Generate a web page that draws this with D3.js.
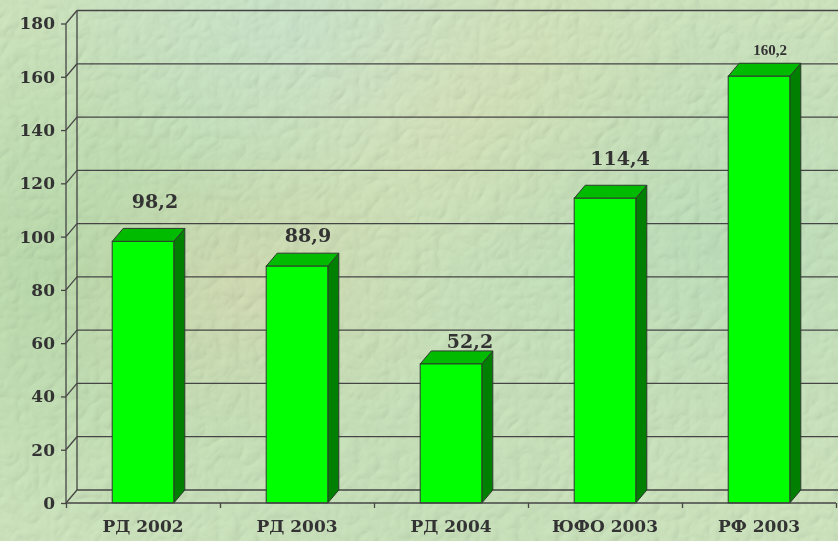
<!DOCTYPE html>
<html>
<head>
<meta charset="utf-8">
<script src="https://cdn.jsdelivr.net/npm/d3@7"></script>
<style>
  html, body { margin: 0; padding: 0; overflow: hidden; }
  svg { display: block; }
</style>
</head>
<body>
<script>
// данные
const categories = ['РД 2002', 'РД 2003', 'РД 2004', 'ЮФО 2003', 'РФ 2003']
const values = [98.2, 88.9, 52.2, 114.4, 160.2]
const valueLabels = ['98,2', '88,9', '52,2', '114,4', '160,2']
const yTicks = [0, 20, 40, 60, 80, 100, 120, 140, 160, 180]

const W = 838, H = 541
const depthX = 11, depthY = -13   // смещение задней стенки
const textColor = '#333333'
const lineColor = '#454545'

// сдвиги подписей значений (dx от центра столбца, dy от верхней грани)
const labelShift = [[12, -33], [11, -24], [19, -16], [15, -33], [11, -21]]

const svg = d3.select('body')
  .append('svg')
  .attr('width', W)
  .attr('height', H)

const defs = svg.append('defs')

// фон: пятна цвета
const blobs = [
  {cx: 0.1, cy: 0.5, r: 0.45, c: '#a9d39c'},
  {cx: 0.55, cy: 0.2, r: 0.3, c: '#e0e2b4'},
  {cx: 0.3, cy: 0.55, r: 0.25, c: '#e2dab4'},
  {cx: 0.85, cy: 0.45, r: 0.4, c: '#b3dcb8'},
  {cx: 0.5, cy: 0.85, r: 0.4, c: '#c4e0b8'},
  {cx: 0.35, cy: 0.05, r: 0.3, c: '#c8e6d6'}
]
blobs.forEach((b, i) => {
  const g = defs.append('radialGradient').attr('id', 'blob' + i)
  g.append('stop').attr('offset', '0%').attr('stop-color', b.c).attr('stop-opacity', 0.55)
  g.append('stop').attr('offset', '100%').attr('stop-color', b.c).attr('stop-opacity', 0)
})

const tex = defs.append('filter').attr('id', 'tex')
  .attr('x', 0).attr('y', 0).attr('width', '100%').attr('height', '100%')
tex.append('feTurbulence')
  .attr('type', 'turbulence')
  .attr('baseFrequency', 0.05)
  .attr('numOctaves', 2)
  .attr('seed', 3)
  .attr('result', 'n')
tex.append('feDiffuseLighting')
  .attr('in', 'n')
  .attr('surfaceScale', 2)
  .attr('lighting-color', '#ffffff')
  .append('feDistantLight')
  .attr('azimuth', 225)
  .attr('elevation', 55)

svg.append('rect')
  .attr('width', W).attr('height', H)
  .attr('fill', '#cfe6c0')

svg.selectAll('ellipse.blob')
  .data(blobs)
  .enter()
  .append('ellipse')
  .attr('class', 'blob')
  .attr('cx', d => d.cx * W)
  .attr('cy', d => d.cy * H)
  .attr('rx', d => d.r * W)
  .attr('ry', d => d.r * H * 1.1)
  .attr('fill', (d, i) => `url(#blob${i})`)

svg.append('rect')
  .attr('width', W).attr('height', H)
  .attr('filter', 'url(#tex)')
  .style('mix-blend-mode', 'multiply')
  .attr('opacity', 0.3)

// шкалы
const x0 = 66, x1 = 836
const xScale = d3.scaleBand()
  .domain(categories)
  .range([x0, x1])
  .paddingInner(0.6)
  .paddingOuter(0.3)

const yScale = d3.scaleLinear()
  .domain([0, 180])
  .range([503, 23.5])

const g = svg.append('g')

// задняя стенка: линии сетки
g.selectAll('line.grid')
  .data(yTicks)
  .enter()
  .append('line')
  .attr('class', 'grid')
  .attr('x1', x0 + depthX)
  .attr('x2', W + 10)
  .attr('y1', d => yScale(d) + depthY)
  .attr('y2', d => yScale(d) + depthY)
  .attr('stroke', lineColor)
  .attr('stroke-width', 1.3)

// левая стенка: диагонали
g.selectAll('line.diag')
  .data(yTicks)
  .enter()
  .append('line')
  .attr('class', 'diag')
  .attr('x1', x0)
  .attr('x2', x0 + depthX)
  .attr('y1', d => yScale(d))
  .attr('y2', d => yScale(d) + depthY)
  .attr('stroke', lineColor)
  .attr('stroke-width', 1.3)

g.append('line')
  .attr('x1', x0 + depthX).attr('x2', x0 + depthX)
  .attr('y1', yScale(180) + depthY).attr('y2', yScale(0) + depthY)
  .attr('stroke', lineColor)
  .attr('stroke-width', 1.3)

// столбцы
const bw = xScale.bandwidth()
const bars = g.selectAll('g.bar')
  .data(values)
  .enter()
  .append('g')
  .attr('class', 'bar')

const barX = (d, i) => xScale(categories[i])

bars.append('path')
  .attr('d', (d, i) => {
    const x = barX(d, i), y = yScale(d), y0 = yScale(0)
    return `M${x + bw},${y}L${x + bw + depthX},${y + depthY}L${x + bw + depthX},${y0 + depthY}L${x + bw},${y0}Z`
  })
  .attr('fill', '#007f00')
  .attr('stroke', '#2e3a2e')
  .attr('stroke-width', 1)

bars.append('path')
  .attr('d', (d, i) => {
    const x = barX(d, i), y = yScale(d)
    return `M${x},${y}L${x + depthX},${y + depthY}L${x + bw + depthX},${y + depthY}L${x + bw},${y}Z`
  })
  .attr('fill', '#00bb00')
  .attr('stroke', '#2e3a2e')
  .attr('stroke-width', 1)

bars.append('rect')
  .attr('x', barX)
  .attr('y', d => yScale(d))
  .attr('width', bw)
  .attr('height', d => yScale(0) - yScale(d))
  .attr('fill', '#00ff00')
  .attr('stroke', '#2e3a2e')
  .attr('stroke-width', 1)

// подписи значений
bars.append('text')
  .attr('x', (d, i) => barX(d, i) + bw / 2 + labelShift[i][0])
  .attr('y', (d, i) => yScale(d) + labelShift[i][1])
  .attr('text-anchor', 'middle')
  .attr('fill', textColor)
  .attr('font-family', (d, i) => i === 4 ? '"Liberation Serif", serif' : '"DejaVu Serif", serif')
  .attr('font-weight', 'bold')
  .attr('font-size', (d, i) => i === 4 ? 15 : 19)
  .text((d, i) => valueLabels[i])

// ось Y
const yAxis = svg.append('g')
  .attr('transform', `translate(${x0},0)`)
  .call(d3.axisLeft(yScale).tickValues(yTicks).tickSize(5).tickPadding(6))
yAxis.select('.domain')
  .attr('d', `M0,${yScale(180)}V${yScale(0)}`)
  .attr('stroke', lineColor)
  .attr('stroke-width', 1.3)
yAxis.selectAll('.tick line').attr('stroke', lineColor).attr('stroke-width', 1.3)
yAxis.selectAll('.tick text')
  .attr('fill', textColor)
  .attr('font-family', '"DejaVu Serif", serif')
  .attr('font-weight', 'bold')
  .attr('font-size', 17)

// ось X: деления на границах категорий
const edgeScale = d3.scaleLinear().domain([0, categories.length]).range([x0, x1])
const xEdges = svg.append('g')
  .attr('transform', `translate(0,${yScale(0)})`)
  .call(d3.axisBottom(edgeScale).ticks(categories.length).tickSize(5).tickFormat(''))
xEdges.select('.domain').attr('d', `M${x0},0H${x1}`).attr('stroke', lineColor).attr('stroke-width', 1.3)
xEdges.selectAll('.tick line').attr('stroke', lineColor).attr('stroke-width', 1.3)

const xAxis = svg.append('g')
  .attr('transform', `translate(0,${yScale(0)})`)
  .call(d3.axisBottom(xScale).tickSize(0).tickPadding(17))
xAxis.select('.domain').remove()
xAxis.selectAll('.tick text')
  .attr('fill', textColor)
  .attr('font-family', '"DejaVu Serif", serif')
  .attr('font-weight', 'bold')
  .attr('font-size', 17)
  .attr('dy', '0.71em')
</script>
</body>
</html>
